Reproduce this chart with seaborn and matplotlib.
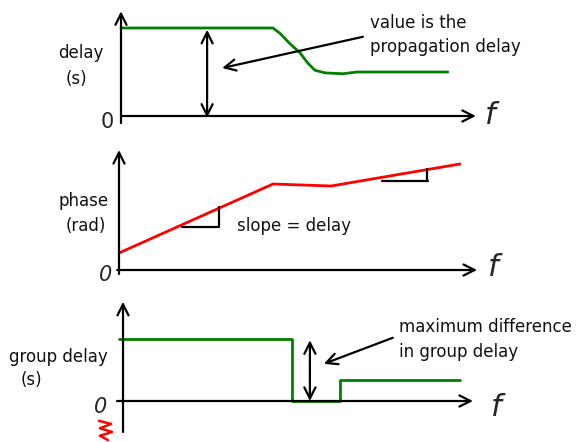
import numpy as np
import matplotlib.pyplot as plt
import seaborn as sns

# data (frequency in arbitrary units)
f_delay = [0.0, 4.34, 4.54, 4.83, 5.11, 5.34, 5.54, 5.83, 6.34, 6.74, 9.34]
delay = [1.0, 1.0, 0.94, 0.82, 0.72, 0.60, 0.52, 0.49, 0.48, 0.50, 0.50]

f_phase = [0.0, 4.4, 6.06, 9.74]
phase = [0.85, 4.3, 4.2, 5.3]

f_group = [-0.11, 4.83, 4.83, 6.2, 6.2, 9.63]
group = [1.0, 1.0, 0.0, 0.0, 0.34, 0.34]

sns.set_theme(style="white")
plt.rcParams['font.family'] = ['DejaVu Sans']

W, H = 578, 442
fig = plt.figure(figsize=(W / 100, H / 100), dpi=100)


def panel(x0, y0, sx, sy):
    # axes spanning whole figure, origin of data at pixel (x0, y0)
    ax = fig.add_axes([0, 0, 1, 1])
    ax.set_xlim(-x0 / sx, (W - x0) / sx)
    ax.set_ylim(-(H - y0) / sy, y0 / sy)
    ax.axis('off')
    ax.patch.set_visible(False)
    return ax


def arrow(ax, start, end, style='->'):
    ax.annotate('', xy=end, xytext=start,
                arrowprops=dict(arrowstyle=style, lw=1.6, color='black',
                                mutation_scale=20, shrinkA=0, shrinkB=0),
                zorder=5)


txt = dict(fontsize=12, color='#111111')

# ---- panel 1: delay
ax1 = panel(121, 116, 35, 88)
sns.lineplot(x=f_delay, y=delay, ax=ax1, color='green', lw=2, estimator=None, sort=False, zorder=2)
arrow(ax1, (0, -0.08), (0, 1.19))
arrow(ax1, (0, 0), (10.14, 0))
arrow(ax1, (2.46, 0.5), (2.46, 0.98))
arrow(ax1, (2.46, 0.5), (2.46, -0.02))
arrow(ax1, (6.91, 0.90), (2.89, 0.545))
ax1.text(7.11, 1.06, 'value is the', ha='left', va='center', **txt)
ax1.text(7.11, 0.78, 'propagation delay', ha='left', va='center', **txt)
ax1.text(-1.14, 0.72, 'delay', ha='center', va='center', **txt)
ax1.text(-1.26, 0.42, '(s)', ha='center', va='center', **txt)
ax1.text(-0.4, -0.07, '0', ha='center', va='center', fontsize=15)
ax1.text(10.6, 0.0, '$f$', ha='center', va='center', fontsize=22)

# ---- panel 2: phase
ax2 = panel(119, 270, 35, 20)
sns.lineplot(x=f_phase, y=phase, ax=ax2, color='red', lw=2, estimator=None, sort=False, zorder=2)
arrow(ax2, (0, -0.2), (0, 6.0))
arrow(ax2, (-0.05, 0), (10.23, 0))
ax2.plot([1.8, 2.86, 2.86], [2.15, 2.15, 3.15], color='black', lw=1.6)
ax2.plot([7.51, 8.83], [4.475, 4.475], color='black', lw=1.6)
ax2.plot([8.8, 8.8], [4.475, 5.05], color='black', lw=1.6)
ax2.text(3.37, 2.2, 'slope = delay', ha='left', va='center', **txt)
ax2.text(-1.0, 3.45, 'phase', ha='center', va='center', **txt)
ax2.text(-0.94, 2.2, '(rad)', ha='center', va='center', **txt)
ax2.text(-0.37, -0.25, '0', ha='center', va='center', fontsize=15, style='italic')
ax2.text(10.74, 0.1, '$f$', ha='center', va='center', fontsize=22)

# ---- panel 3: group delay
ax3 = panel(123, 401, 35, 62)
sns.lineplot(x=f_group, y=group, ax=ax3, color='green', lw=2, estimator=None, sort=False, zorder=2)
arrow(ax3, (0, -0.5), (0, 1.6))
arrow(ax3, (-0.17, 0), (10.0, 0))
arrow(ax3, (5.34, 0.5), (5.34, 0.98))
arrow(ax3, (5.34, 0.5), (5.34, 0.0))
arrow(ax3, (7.71, 1.02), (5.74, 0.60))
ax3.text(7.89, 1.19, 'maximum difference', ha='left', va='center', **txt)
ax3.text(7.89, 0.79, 'in group delay', ha='left', va='center', **txt)
ax3.text(-1.86, 0.71, 'group delay', ha='center', va='center', **txt)
ax3.text(-2.63, 0.34, '(s)', ha='center', va='center', **txt)
ax3.text(-0.63, -0.1, '0', ha='center', va='center', fontsize=15, style='italic')
ax3.text(10.71, -0.11, '$f$', ha='center', va='center', fontsize=22)
zz_x = np.array([-0.69, -0.34, -0.66, -0.31, -0.66, -0.43])
zz_y = np.array([-0.32, -0.37, -0.44, -0.50, -0.56, -0.63])
ax3.plot(zz_x, zz_y, color='red', lw=1.8)

fig.savefig('out.png', dpi=100)
